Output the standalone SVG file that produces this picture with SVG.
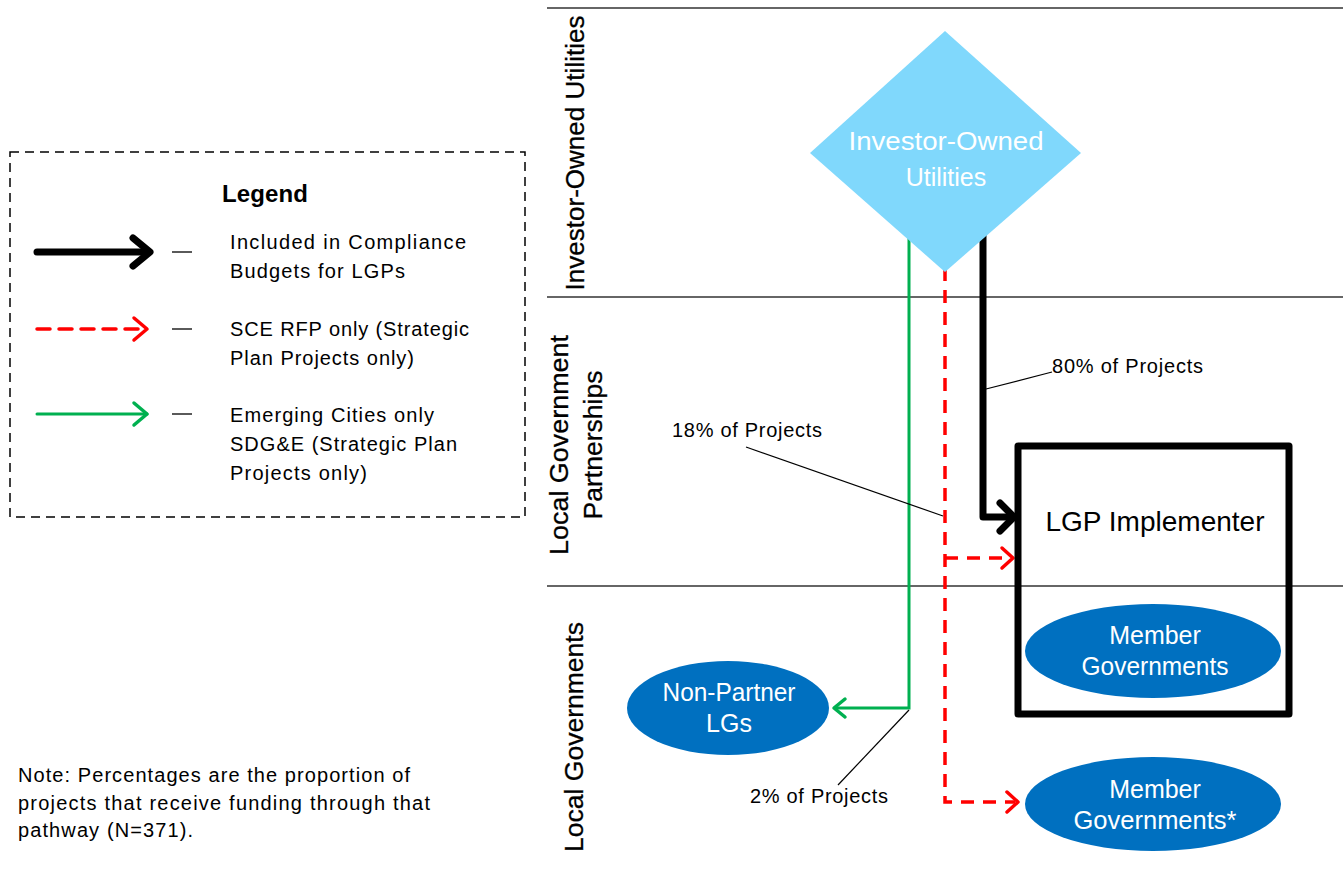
<svg xmlns="http://www.w3.org/2000/svg" width="1343" height="873" viewBox="0 0 1343 873">
<style>
.lane{stroke:#333;stroke-width:1.5}
.lanelbl{font-family:"Liberation Sans",Arial,sans-serif;font-size:26.5px;fill:#000;stroke:#000;stroke-width:0.3}
.txt{font-family:"Liberation Sans",Arial,sans-serif;font-size:20px;fill:#000}
.wt{font-family:"Liberation Sans",Arial,sans-serif;font-size:25px;fill:#fff;text-anchor:middle}
.blk{stroke:#000;stroke-width:7;fill:none;stroke-linecap:round;stroke-linejoin:round}
.red{stroke:#FF0000;stroke-width:3.5;fill:none;stroke-dasharray:13 9}
.redh{stroke:#FF0000;stroke-width:3.5;fill:none;stroke-linecap:round;stroke-linejoin:round}
.grn{stroke:#00B050;stroke-width:3;fill:none}
.grnh{stroke:#00B050;stroke-width:3.5;fill:none;stroke-linecap:round;stroke-linejoin:round}
.lead{stroke:#000;stroke-width:1.2;fill:none}
.ell{fill:#0070C0}
</style>
<rect width="1343" height="873" fill="#fff"/>
<g id="lanes">
<line class="lane" x1="547" y1="8" x2="1343" y2="8"/>
<line class="lane" x1="547" y1="297" x2="1343" y2="297"/>
<line class="lane" x1="547" y1="586" x2="1343" y2="586"/>
<text class="lanelbl" transform="translate(584,153) rotate(-90)" text-anchor="middle" textLength="275" lengthAdjust="spacingAndGlyphs">Investor-Owned Utilities</text>
<text class="lanelbl" transform="translate(568,445) rotate(-90)" text-anchor="middle" textLength="220" lengthAdjust="spacingAndGlyphs">Local Government</text>
<text class="lanelbl" transform="translate(602,445) rotate(-90)" text-anchor="middle">Partnerships</text>
<text class="lanelbl" transform="translate(583,737) rotate(-90)" text-anchor="middle" textLength="230" lengthAdjust="spacingAndGlyphs">Local Governments</text>
</g>
<g id="legend">
<rect x="10" y="152" width="515" height="365" fill="none" stroke="#000" stroke-width="1.5" stroke-dasharray="9 6"/>
<text x="222" y="202" font-family="Liberation Sans,Arial,sans-serif" font-size="24" font-weight="bold" textLength="86">Legend</text>
<line x1="37" y1="252" x2="148" y2="252" class="blk" stroke-width="8"/>
<path d="M133,238 L150,252 L133,266" class="blk" stroke-width="8"/>
<line x1="37" y1="329" x2="147" y2="329" class="red" stroke-linecap="round"/>
<path d="M134,318 L147,329 L134,340" class="redh"/>
<line x1="37" y1="414" x2="147" y2="414" class="grn" stroke-width="3.5" stroke-linecap="round"/>
<path d="M134,403 L147,414 L134,425" class="grnh"/>
<line x1="172" y1="252" x2="192" y2="252" stroke="#000" stroke-width="1.3"/>
<line x1="172" y1="329" x2="192" y2="329" stroke="#000" stroke-width="1.3"/>
<line x1="172" y1="414" x2="192" y2="414" stroke="#000" stroke-width="1.3"/>
<text class="txt" font-size="21"><tspan x="230" y="249" textLength="236">Included in Compliance</tspan><tspan x="230" y="278" textLength="175">Budgets for LGPs</tspan></text>
<text class="txt" font-size="21"><tspan x="230" y="336" textLength="239">SCE RFP only (Strategic</tspan><tspan x="230" y="365" textLength="184">Plan Projects only)</tspan></text>
<text class="txt" font-size="21"><tspan x="230" y="422" textLength="204">Emerging Cities only</tspan><tspan x="230" y="451" textLength="227">SDG&amp;E (Strategic Plan</tspan><tspan x="230" y="480" textLength="137">Projects only)</tspan></text>
</g>
<g id="note">
<text class="txt"><tspan x="18" y="782" textLength="392">Note: Percentages are the proportion of</tspan><tspan x="18" y="810" textLength="412">projects that receive funding through that</tspan><tspan x="18" y="837" textLength="175">pathway (N=371).</tspan></text>
</g>
<g id="connectors">
<path d="M909,230 L909,708 L836,708" class="grn"/>
<path d="M845,699 L834,708 L845,717" class="grnh"/>
<path d="M945,268 L945,802 L1015,802" class="red"/>
<path d="M1007,792 L1018,802 L1007,812" class="redh"/>
<path d="M945,558 L1010,558" class="red"/>
<path d="M1002,548 L1013,558 L1002,568" class="redh"/>
<path d="M983,230 L983,517 L1012,517" class="blk"/>
<path d="M1000,503 L1014,517 L1000,531" class="blk"/>
<line class="lead" x1="986" y1="389" x2="1052" y2="372"/>
<line class="lead" x1="746" y1="447" x2="943" y2="516"/>
<line class="lead" x1="909" y1="710" x2="838" y2="785"/>
<text class="txt"><tspan x="1052" y="373" textLength="151">80% of Projects</tspan></text>
<text class="txt"><tspan x="672" y="437" textLength="150">18% of Projects</tspan></text>
<text class="txt"><tspan x="750" y="803" textLength="138">2% of Projects</tspan></text>
</g>
<g id="iou">
<polygon points="945,31 1081,153 945,272 810,153" fill="#80D8FC"/>
<text class="wt" font-size="29"><tspan x="946" y="150" textLength="195" lengthAdjust="spacingAndGlyphs">Investor-Owned</tspan><tspan x="946" y="186">Utilities</tspan></text>
</g>
<g id="lgp">
<rect x="1018" y="446" width="271" height="268" fill="none" stroke="#000" stroke-width="7" stroke-linejoin="round"/>
<text x="1155" y="531" text-anchor="middle" font-family="Liberation Sans,Arial,sans-serif" font-size="28" textLength="219" lengthAdjust="spacingAndGlyphs">LGP Implementer</text>
</g>
<g id="member1">
<ellipse class="ell" cx="1153" cy="651" rx="128" ry="47"/>
<text class="wt"><tspan x="1155" y="644">Member</tspan><tspan x="1155" y="675" textLength="147" lengthAdjust="spacingAndGlyphs">Governments</tspan></text>
</g>
<g id="nonpartner">
<ellipse class="ell" cx="728" cy="708" rx="101" ry="47"/>
<text class="wt"><tspan x="729" y="701" textLength="133" lengthAdjust="spacingAndGlyphs">Non-Partner</tspan><tspan x="729" y="732">LGs</tspan></text>
</g>
<g id="member2">
<ellipse class="ell" cx="1153" cy="804" rx="128" ry="47"/>
<text class="wt"><tspan x="1155" y="798">Member</tspan><tspan x="1155" y="829" textLength="163" lengthAdjust="spacingAndGlyphs">Governments*</tspan></text>
</g>
</svg>
